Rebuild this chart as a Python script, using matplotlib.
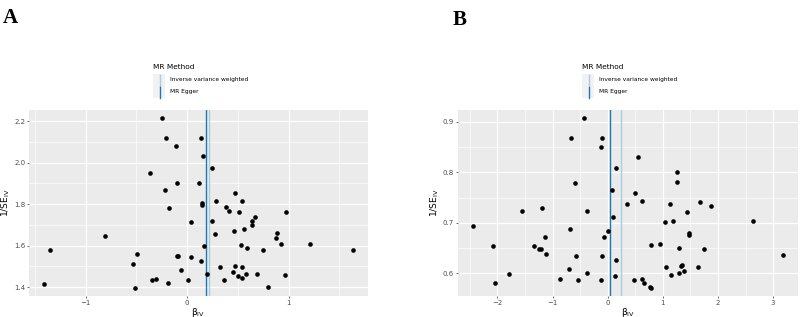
import matplotlib
matplotlib.use("Agg")
import matplotlib.pyplot as plt
from matplotlib.patches import Rectangle
from matplotlib.lines import Line2D
from matplotlib.ticker import MultipleLocator

# Panel A data (beta_IV, 1/SE_IV)
beta_a = [-0.246, -0.213, 0.138, -0.115, 0.154, 0.243, -0.371, -0.105, 0.115, -0.220,
          0.470, 0.286, 0.539, 0.148, 0.148, -0.181, 0.384, 0.411, 0.512, 0.972,
          0.670, 0.640, 0.637, 0.039, 0.243, 0.463, 0.558, 0.276, -0.808, 0.880,
          0.870, -1.356, 0.161, 0.532, 0.585, 0.745, 0.923, 1.205, 1.629, -0.499,
          -0.105, -0.095, 0.036, -0.535, 0.135, 0.325, 0.466, 0.542, -0.066, 0.450,
          0.197, 0.581, 0.690, 0.962, 0.499, -1.409, -0.345, -0.305, -0.194, 0.007,
          0.361, 0.539, -0.516, 0.795]
invse_a = [2.213, 2.118, 2.118, 2.080, 2.030, 1.974, 1.952, 1.902, 1.903, 1.870,
           1.854, 1.817, 1.814, 1.804, 1.796, 1.782, 1.786, 1.767, 1.761, 1.761,
           1.737, 1.717, 1.698, 1.713, 1.717, 1.673, 1.682, 1.655, 1.645, 1.660,
           1.639, 1.581, 1.600, 1.602, 1.591, 1.581, 1.607, 1.608, 1.580, 1.559,
           1.549, 1.551, 1.547, 1.511, 1.528, 1.498, 1.501, 1.495, 1.485, 1.475,
           1.466, 1.466, 1.466, 1.461, 1.455, 1.416, 1.437, 1.438, 1.421, 1.437,
           1.437, 1.442, 1.398, 1.400]
ivw_a = 0.213
egger_a = 0.181

# Panel B data
beta_b = [-2.442, -2.079, -2.048, -1.788, -1.558, -1.345, -1.255, -1.212, -1.200, -1.139,
          -1.115, -0.867, -0.697, -0.685, -0.673, -0.588, -0.582, -0.539, -0.436, -0.382,
          -0.376, -0.127, -0.115, -0.109, -0.097, -0.073, 0.000, 0.079, 0.097, 0.127,
          0.145, 0.158, 0.352, 0.479, 0.491, 0.545, 0.624, 0.630, 0.661, 0.764,
          0.788, 0.788, 0.945, 1.036, 1.061, 1.121, 1.152, 1.188, 1.248, 1.248,
          1.291, 1.291, 1.321, 1.345, 1.388, 1.442, 1.467, 1.473, 1.630, 1.673,
          1.752, 1.879, 2.642, 3.170]
invse_b = [0.695, 0.655, 0.582, 0.599, 0.724, 0.655, 0.648, 0.648, 0.730, 0.673,
           0.639, 0.590, 0.608, 0.688, 0.869, 0.779, 0.634, 0.588, 0.907, 0.601,
           0.723, 0.588, 0.851, 0.634, 0.868, 0.672, 0.684, 0.766, 0.711, 0.595,
           0.808, 0.626, 0.738, 0.588, 0.760, 0.831, 0.744, 0.590, 0.582, 0.574,
           0.572, 0.657, 0.658, 0.701, 0.613, 0.737, 0.597, 0.703, 0.800, 0.781,
           0.651, 0.600, 0.614, 0.617, 0.605, 0.721, 0.680, 0.676, 0.613, 0.742,
           0.649, 0.733, 0.704, 0.636]
ivw_b = 0.24
egger_b = 0.036

methods = ["Inverse variance weighted", "MR Egger"]
colors = ["#a6cee3", "#1f78b4"]

fig = plt.figure(figsize=(8, 3.17), dpi=100)


def funnel(ax, x, y, ivw, egger, xmaj, ymaj):
    ax.set_facecolor("#ebebeb")
    ax.scatter(x, y, s=11, color="black", zorder=3, linewidths=0)
    ax.axvline(ivw, color=colors[0], lw=1.0, zorder=2)
    ax.axvline(egger, color=colors[1], lw=1.0, zorder=2)
    ax.margins(0.05)
    ax.xaxis.set_major_locator(MultipleLocator(xmaj))
    ax.xaxis.set_minor_locator(MultipleLocator(xmaj / 2))
    ax.yaxis.set_major_locator(MultipleLocator(ymaj))
    ax.yaxis.set_minor_locator(MultipleLocator(ymaj / 2))
    ax.grid(which="major", color="white", lw=0.9)
    ax.grid(which="minor", color="white", lw=0.45)
    ax.set_axisbelow(True)
    for s in ax.spines.values():
        s.set_visible(False)
    ax.tick_params(which="major", length=1.5, color="#333333", width=0.5,
                   labelsize=5, labelcolor="#4d4d4d", pad=1)
    ax.tick_params(which="minor", length=0)
    ax.set_xlabel(r"β$_{\mathrm{IV}}$", fontsize=6.5, labelpad=0)
    ax.set_ylabel(r"1/SE$_{\mathrm{IV}}$", fontsize=6.5, labelpad=1.5)


def legend(x0, y0):
    # x0, y0 in pixels from top-left
    W, H = 800, 317
    fig.text(x0 / W, 1 - y0 / H, "MR Method", fontsize=5.3, va="center", ha="left")
    for i, (m, c) in enumerate(zip(methods, colors)):
        top = y0 + 7 + i * 12
        fig.add_artist(Rectangle((x0 / W, 1 - (top + 12) / H), 12 / W, 12 / H,
                                 transform=fig.transFigure, facecolor="#f2f2f2",
                                 edgecolor="none"))
        fig.add_artist(Line2D([(x0 + 6.5) / W] * 2, [1 - (top + 0.5) / H, 1 - (top + 11.5) / H],
                              transform=fig.transFigure, color=c, lw=1.0))
        fig.text((x0 + 17) / W, 1 - (top + 6) / H, m, fontsize=4.2, va="center", ha="left")


ax1 = fig.add_axes([0.036, 0.066, 0.424, 0.587])
funnel(ax1, beta_a, invse_a, ivw_a, egger_a, 1, 0.2)
ax2 = fig.add_axes([0.572, 0.066, 0.4255, 0.587])
funnel(ax2, beta_b, invse_b, ivw_b, egger_b, 1, 0.1)

legend(153, 67)
legend(582, 67)

fig.text(3 / 800, 1 - 18 / 317, "A", fontsize=15, family="Liberation Serif",
         weight="bold", va="center", ha="left")
fig.text(453 / 800, 1 - 20 / 317, "B", fontsize=15, family="Liberation Serif",
         weight="bold", va="center", ha="left")

fig.savefig("out.png", dpi=100)
